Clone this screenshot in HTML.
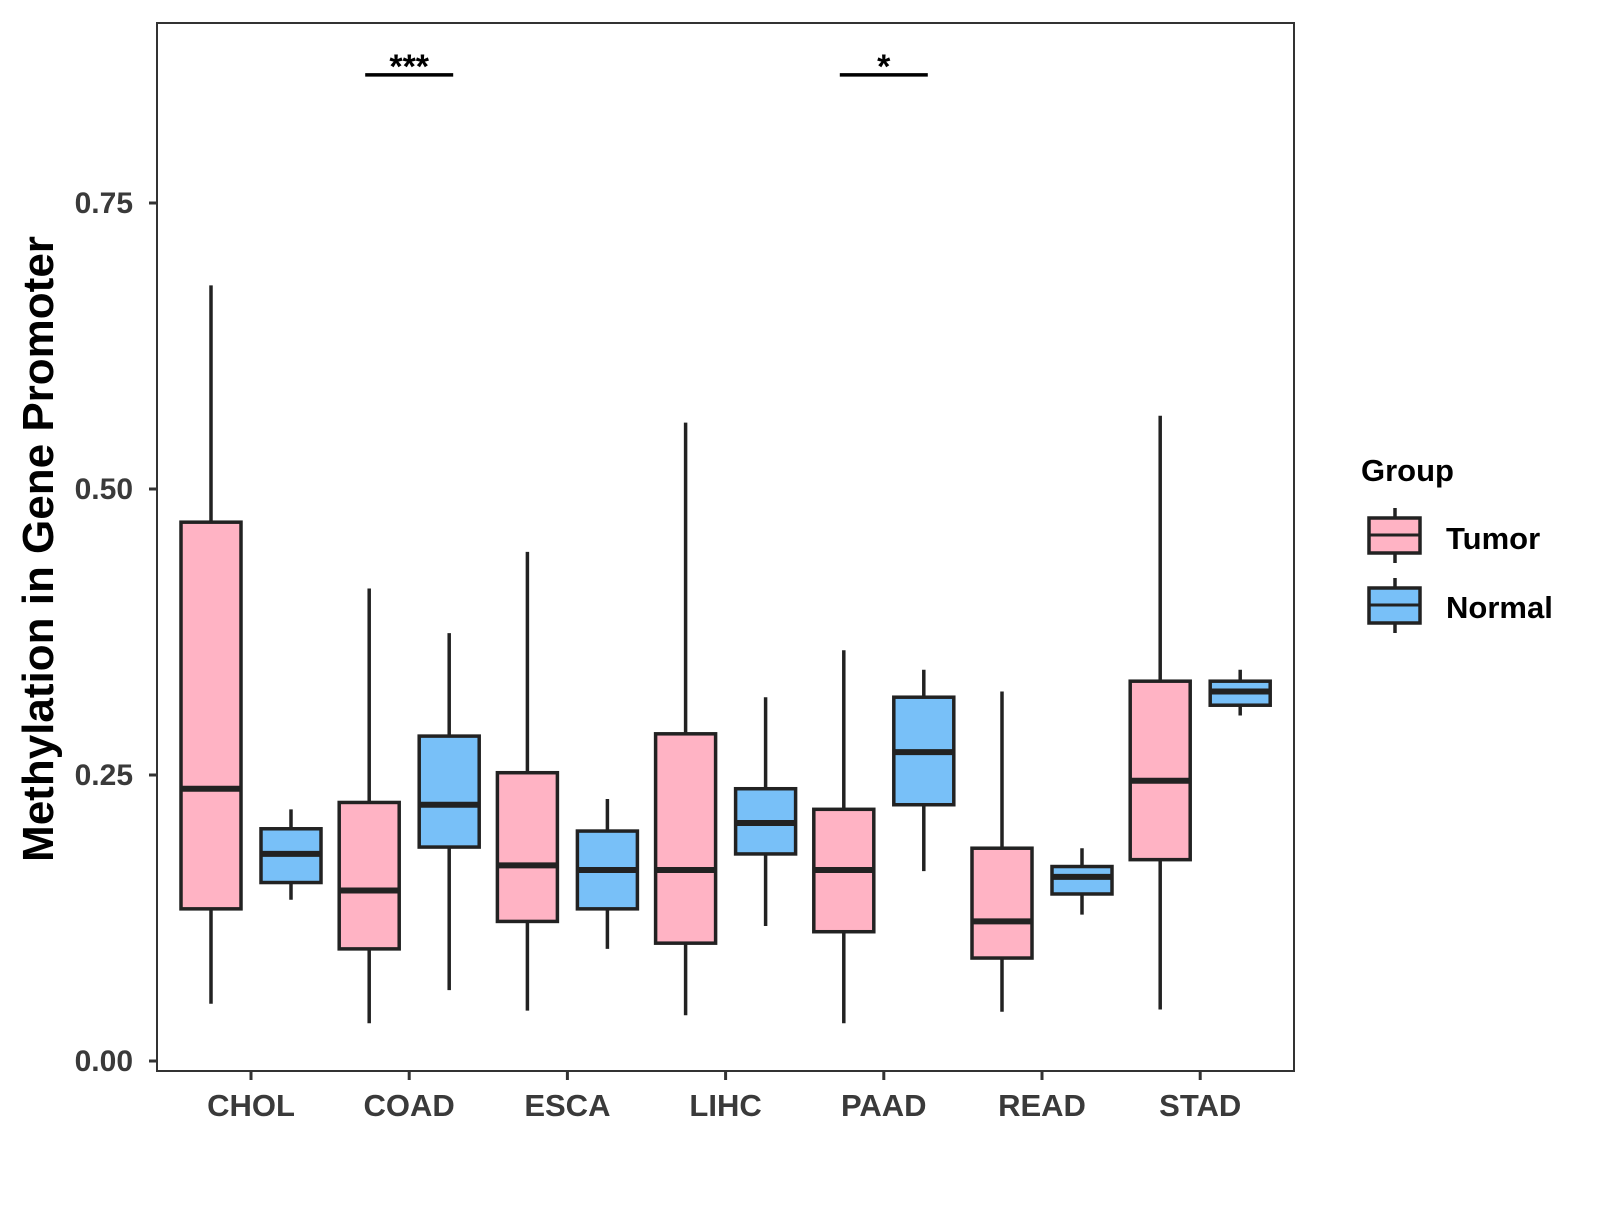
<!DOCTYPE html>
<html><head><meta charset="utf-8"><style>body{margin:0;background:#fff}svg{font-family:"Liberation Sans",Arial,sans-serif;font-weight:bold}</style></head>
<body>
<svg id="c" width="1600" height="1200" xmlns="http://www.w3.org/2000/svg">
<rect x="157" y="23" width="1137" height="1048" fill="#fff" stroke="#333" stroke-width="2"/>
<g id="g"></g>
<text transform="translate(53,549) rotate(-90)" text-anchor="middle" font-size="44" fill="#000">Methylation in Gene Promoter</text>
<text x="1361" y="481" font-size="31" fill="#000">Group</text>
<g>
<line x1="1395" y1="508" x2="1395" y2="563" stroke="#222" stroke-width="3.5"/>
<rect x="1369" y="518" width="51" height="35" fill="#ffb3c4" stroke="#222" stroke-width="3.5"/>
<line x1="1369" y1="535" x2="1420" y2="535" stroke="#222" stroke-width="3"/>
<text x="1446" y="549" font-size="31" fill="#000">Tumor</text></g>
<g>
<line x1="1395" y1="578" x2="1395" y2="633" stroke="#222" stroke-width="3.5"/>
<rect x="1369" y="588" width="51" height="35" fill="#78c0f8" stroke="#222" stroke-width="3.5"/>
<line x1="1369" y1="605" x2="1420" y2="605" stroke="#222" stroke-width="3"/>
<text x="1446" y="618" font-size="31" fill="#000">Normal</text></g>
</svg>
<script>
const categories=["CHOL","COAD","ESCA","LIHC","PAAD","READ","STAD"];
const tumorStats=[[0.050,0.133,0.238,0.471,0.678],[0.033,0.098,0.149,0.226,0.413],[0.044,0.122,0.171,0.252,0.445],[0.040,0.103,0.167,0.286,0.558],[0.033,0.113,0.167,0.220,0.359],[0.043,0.090,0.122,0.186,0.323],[0.045,0.176,0.245,0.332,0.564]];
const normalStats=[[0.141,0.156,0.181,0.203,0.220],[0.062,0.187,0.224,0.284,0.374],[0.098,0.133,0.167,0.201,0.229],[0.118,0.181,0.208,0.238,0.318],[0.166,0.224,0.270,0.318,0.342],[0.128,0.146,0.161,0.170,0.186],[0.302,0.311,0.323,0.332,0.342]];
const yTicks=[0,0.25,0.5,0.75];
const yTickLabels=["0.00","0.25","0.50","0.75"];
const sigCats=["COAD","PAAD"];
const sigLabels=["***","*"];
const sigY=[0.862,0.862];
const NS="http://www.w3.org/2000/svg";
const g=document.getElementById('g');
const y=v=>1061-v*1144;
const x=i=>251+i*158.2;
function mk(t,a,p){const e=document.createElementNS(NS,t);for(const k in a)e.setAttribute(k,a[k]);(p||g).appendChild(e);return e;}
yTicks.forEach((v,i)=>{
 const l=mk('line',{x1:149,x2:157,y1:y(v),y2:y(v),stroke:'#333','stroke-width':3});
 
 
 const t=mk('text',{x:133,y:y(v)+10,'text-anchor':'end','font-size':30,fill:'#3a3a3a'});
 t.textContent=yTickLabels[i];
 
 
});
categories.forEach((c,i)=>{
 const l=mk('line',{x1:x(i),x2:x(i),y1:1071,y2:1080,stroke:'#333','stroke-width':3});
 
 
 const t=mk('text',{x:x(i),y:1116,'text-anchor':'middle','font-size':31,fill:'#3a3a3a'});
 t.textContent=c;
 
 
 [[tumorStats[i],-40,'#ffb3c4','tumor'],[normalStats[i],40,'#78c0f8','normal']].forEach(([s,o,col,n])=>{
  const cx=x(i)+o;
  const bg=mk('g',{});
  
  
  mk('line',{x1:cx,x2:cx,y1:y(s[0]),y2:y(s[4]),stroke:'#222','stroke-width':3.5},bg);
  mk('rect',{x:cx-30,y:y(s[3]),width:60,height:y(s[1])-y(s[3]),fill:col,stroke:'#222','stroke-width':3.5},bg);
  mk('line',{x1:cx-30,x2:cx+30,y1:y(s[2]),y2:y(s[2]),stroke:'#222','stroke-width':6},bg);
 });
});
sigCats.forEach((c,k)=>{
 const i=categories.indexOf(c);
 const l=mk('line',{x1:x(i)-44,x2:x(i)+44,y1:y(sigY[k]),y2:y(sigY[k]),stroke:'#000','stroke-width':3.5});
 
 
 const t=mk('text',{x:x(i),y:y(sigY[k])+3,'text-anchor':'middle','font-size':34,fill:'#000'});
 t.textContent=sigLabels[k];
 
 
});
</script>
</body></html>
